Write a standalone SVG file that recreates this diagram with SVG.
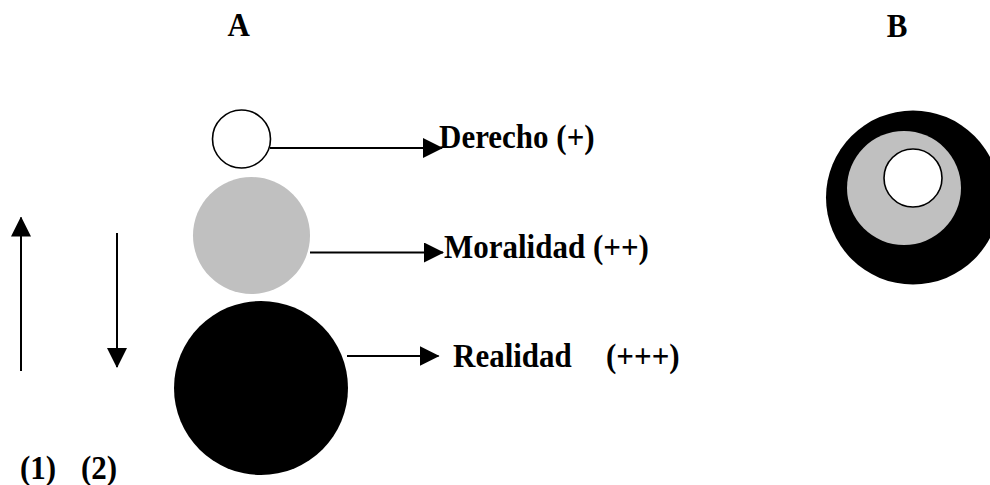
<svg xmlns="http://www.w3.org/2000/svg" width="990" height="485" viewBox="0 0 990 485">
<style>
.t{font-family:"Liberation Serif","Times New Roman",serif;font-weight:bold;font-size:31px;fill:#000}
.c{stroke:#000;stroke-width:2;fill:none}
.ow{fill:#fff;stroke:#000;stroke-width:1.6}
.gr{fill:#c0c0c0}
.bk{fill:#000}
</style>
<defs>
<marker id="ah" markerUnits="userSpaceOnUse" markerWidth="20" markerHeight="20" viewBox="0 0 20 20" refX="19" refY="10" orient="auto">
<path d="M0,0 L20,10 L0,20 Z" fill="#000"/>
</marker>
</defs>
<rect width="990" height="485" fill="#fff"/>
<g id="label-A"><text class="t" text-anchor="middle" transform="translate(238.7,36) scale(1,1.1)">A</text></g>
<g id="label-B"><text class="t" text-anchor="middle" transform="translate(897,36.5) scale(1,1.1)">B</text></g>
<g id="node-derecho"><circle class="ow" cx="241.5" cy="139" r="29"/></g>
<g id="node-moralidad"><circle class="gr" cx="251.5" cy="235.5" r="58.5"/></g>
<g id="node-realidad"><circle class="bk" cx="261" cy="388" r="87"/></g>
<g id="node-B">
<circle class="bk" cx="913" cy="197.5" r="87"/>
<circle class="gr" cx="904" cy="188" r="57"/>
<circle class="ow" cx="913" cy="178" r="29"/>
</g>
<g id="connectors">
<line class="c" x1="270" y1="148" x2="442" y2="148" marker-end="url(#ah)"/>
<line class="c" x1="310" y1="252.5" x2="443" y2="252.5" marker-end="url(#ah)"/>
<line class="c" x1="347" y1="356" x2="438.5" y2="356" marker-end="url(#ah)"/>
<line class="c" x1="21" y1="371" x2="21" y2="217.5" marker-end="url(#ah)"/>
<line class="c" x1="117" y1="233" x2="117" y2="367" marker-end="url(#ah)"/>
</g>
<g id="text-derecho"><text class="t" transform="translate(439,148) scale(1,1.1)">Derecho (+)</text></g>
<g id="text-moralidad"><text class="t" transform="translate(444,257.5) scale(1,1.1)">Moralidad (++)</text></g>
<g id="text-realidad"><text class="t" transform="translate(453,367) scale(1,1.1)">Realidad<tspan x="153">(+++)</tspan></text></g>
<g id="text-1"><text class="t" transform="translate(20,479) scale(1,1.1)">(1)</text></g>
<g id="text-2"><text class="t" transform="translate(81,479) scale(1,1.1)">(2)</text></g>
</svg>
